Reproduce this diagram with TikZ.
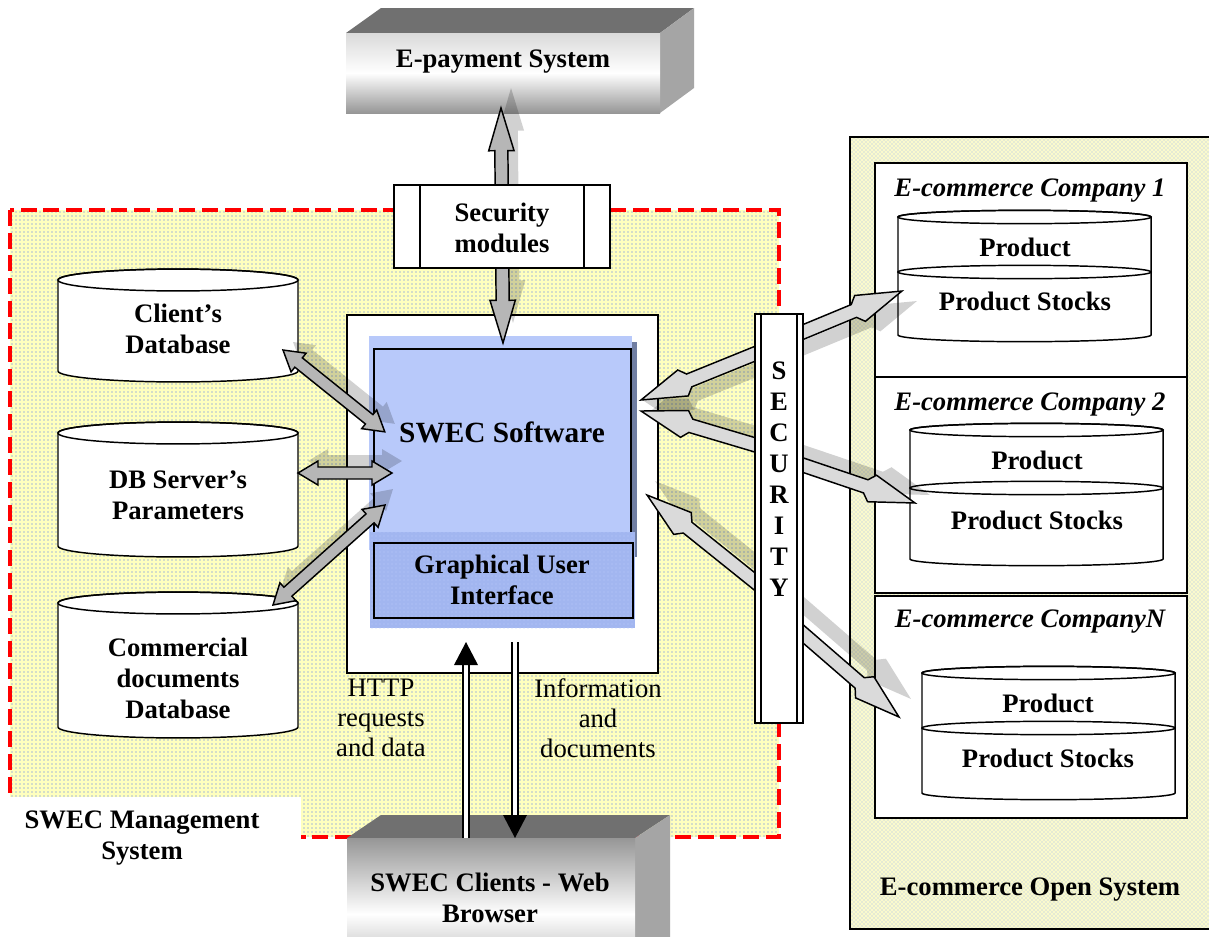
\documentclass[tikz,border=0pt]{standalone}
\usepackage{fontspec}
\setmainfont{Liberation Serif}
\usetikzlibrary{patterns}

\definecolor{mgmtyellow}{RGB}{255,255,190}
\definecolor{dotblue}{RGB}{70,110,240}
\definecolor{openyellow}{RGB}{250,250,205}
\definecolor{hatchblue}{RGB}{160,182,238}
\definecolor{swecblue}{RGB}{184,201,250}
\definecolor{guiblue}{RGB}{162,182,240}
\definecolor{slateblue2}{RGB}{112,126,162}
\definecolor{boxtop}{RGB}{112,112,112}
\definecolor{boxside}{RGB}{165,165,165}
\definecolor{facelight}{RGB}{218,218,218}
\definecolor{facedark}{RGB}{150,150,150}
\definecolor{arrgray}{RGB}{182,182,182}
\definecolor{arrlight}{RGB}{218,218,218}

\newcommand\lblfont{\fontsize{20}{23.2}\selectfont\bfseries}
\newcommand\lblitfont{\fontsize{20}{23.2}\selectfont\bfseries\itshape}
\newcommand\plainfont{\fontsize{20}{22.5}\selectfont}
\newcommand\swecfont{\fontsize{22}{25}\selectfont\bfseries}

\newdimen\ArAx \newdimen\ArAy \newdimen\ArBx \newdimen\ArBy
\newcommand\ArPrep[2]{%
  \pgfextractx{\ArAx}{\pgfpointanchor{#1}{center}}%
  \pgfextracty{\ArAy}{\pgfpointanchor{#1}{center}}%
  \pgfextractx{\ArBx}{\pgfpointanchor{#2}{center}}%
  \pgfextracty{\ArBy}{\pgfpointanchor{#2}{center}}%
  \pgfmathsetmacro\ArAng{atan2(\the\ArBy-\the\ArAy,\the\ArBx-\the\ArAx)}%
  \pgfmathsetmacro\ArLen{veclen(\the\ArBx-\the\ArAx,\the\ArBy-\the\ArAy)}%
}
% double-headed block arrow: [style]{from}{to}{half shaft}{half head}{head length}{offset}
\newcommand\DArrow[7][]{%
  \ArPrep{#2}{#3}%
  \pgfmathsetmacro\ArM{\ArLen-#6}%
  \begin{scope}[shift={(\the\ArAx,\the\ArAy)}, shift={#7}, rotate=\ArAng]
    \path[#1] (0pt,0pt) -- (#6pt,#5pt) -- (#6pt,#4pt) -- (\ArM pt,#4pt) -- (\ArM pt,#5pt)
      -- (\ArLen pt,0pt) -- (\ArM pt,-#5pt) -- (\ArM pt,-#4pt) -- (#6pt,-#4pt) -- (#6pt,-#5pt) -- cycle;
  \end{scope}}
% single-headed block arrow: tail #2, tip #3
\newcommand\SArrow[7][]{%
  \ArPrep{#2}{#3}%
  \pgfmathsetmacro\ArN{\ArLen-#6}%
  \pgfmathsetmacro\ArM{\ArLen-#6-5}%
  \begin{scope}[shift={(\the\ArAx,\the\ArAy)}, shift={#7}, rotate=\ArAng]
    \path[#1] (0pt,#4pt) -- (\ArM pt,#4pt) -- (\ArN pt,#5pt) -- (\ArLen pt,0pt)
      -- (\ArN pt,-#5pt) -- (\ArM pt,-#4pt) -- (0pt,-#4pt) -- cycle;
  \end{scope}}
% cylinder: x1 x2 ytop ybottom rx(pt) ry(pt)
\newcommand\Cyl[6]{%
  \filldraw[cylline, fill=white] (#1,#3) -- (#1,#4)
    arc[start angle=180,end angle=360,x radius=#5pt,y radius=#6pt] -- (#2,#3)
    arc[start angle=0,end angle=180,x radius=#5pt,y radius=#6pt] -- cycle;
  \draw[cylline] ({(#1+#2)/2},#3) ellipse[x radius=#5pt,y radius=#6pt];
}

\begin{document}
\begin{tikzpicture}[x=0.75pt,y=-0.75pt,
  lbl/.style={font=\lblfont, align=center, inner sep=0pt},
  lblit/.style={font=\lblitfont, inner sep=0pt},
  plainlbl/.style={font=\plainfont, align=center, inner sep=0pt},
  boxline/.style={draw=black, line width=1.3pt},
  cylline/.style={draw=black, line width=1.1pt},
  larrow/.style={draw=black, line width=1.1pt, fill=arrgray, line join=miter},
  rarrow/.style={draw=black, line width=1.1pt, fill=arrlight, line join=miter},
  ashadow/.style={fill=black, fill opacity=0.18, draw=none},
  dline/.style={draw=black, line width=1.8pt, double=white, double distance=2.6pt},
]
\useasboundingbox (0,0) rectangle (1209,936);
\clip (0,0) rectangle (1209,936);
\fill[white] (0,0) rectangle (1209,936);

% ---------- SWEC management region ----------
\fill[mgmtyellow] (10,210) rectangle (779,837);
\fill[pattern=dots, pattern color=dotblue] (10,210) rectangle (779,837);
\draw[red, line width=3pt, dash pattern=on 12pt off 5pt] (10,210) rectangle (779,837);
\fill[white] (0,797) rectangle (301,850);
\node[lbl] (mgmt) at (142,838) {SWEC Management\\System};

% ---------- E-commerce open system ----------
\fill[openyellow] (850,137) rectangle (1215,929);
\fill[pattern=crosshatch dots, pattern color=hatchblue] (850,137) rectangle (1215,929);
\draw[boxline] (850,137) rectangle (1215,929);
\node[lbl] (opensys) at (1030,890) {E-commerce Open System};

\draw[boxline, fill=white] (875,163) rectangle (1187,377);
\draw[boxline, fill=white] (875,377) rectangle (1187,593);
\draw[boxline, fill=white] (875,596) rectangle (1187,818);
\node[lblit] (c1t) at (1030,191) {E-commerce Company 1};
\node[lblit] (c2t) at (1030,405) {E-commerce Company 2};
\node[lblit] (cNt) at (1030,622) {E-commerce CompanyN};

\Cyl{898}{1151}{217}{335}{94.875}{5}
\draw[cylline] (1024.5,272) ellipse[x radius=94.875pt, y radius=5pt];
\node[lbl] (p1) at (1025,247) {Product};
\node[lbl] (ps1) at (1025,301) {Product Stocks};

\Cyl{910}{1163}{430}{559}{94.875}{5}
\draw[cylline] (1036.5,488) ellipse[x radius=94.875pt, y radius=5pt];
\node[lbl] (p2) at (1037,460) {Product};
\node[lbl] (ps2) at (1037,520) {Product Stocks};

\Cyl{922}{1175}{673}{793}{94.875}{5}
\draw[cylline] (1048.5,728) ellipse[x radius=94.875pt, y radius=5pt];
\node[lbl] (p3) at (1048,703) {Product};
\node[lbl] (ps3) at (1048,758) {Product Stocks};

% ---------- databases ----------
\Cyl{58}{298}{280}{371}{90}{8.2}
\node[lbl] (cdb) at (178,329) {Client’s\\Database};
\Cyl{58}{298}{433}{546}{90}{8.2}
\node[lbl] (dbs) at (178,495) {DB Server’s\\Parameters};
\Cyl{58}{298}{603}{727}{90}{8.2}
\node[lbl] (cdoc) at (178,678) {Commercial\\documents\\Database};

% ---------- E-payment 3D box ----------
\fill[boxtop] (346,33) -- (381,8) -- (694,8) -- (660,33) -- cycle;
\fill[boxside] (660,33) -- (694,8) -- (694,88) -- (660,113) -- cycle;
\shade[top color=facelight, bottom color=facedark, middle color=white] (346,33) rectangle (660,113);
\node[lbl] (epay) at (503,62) {E-payment System};

% ---------- SWEC clients 3D box ----------
\fill[boxtop] (347,838) -- (381,815) -- (670,815) -- (635,838) -- cycle;
\fill[boxside] (635,838) -- (670,815) -- (670,960) -- (635,980) -- cycle;
\shade[top color=facedark, bottom color=facedark, middle color=white] (347,838) rectangle (635,990);
\node[lbl] (clients) at (490,898) {SWEC Clients - Web\\Browser};

% ---------- SWEC software box ----------
\draw[boxline, fill=white] (347,315) rectangle (658,673);
\fill[slateblue2] (631,342) rectangle (637,557);
\fill[swecblue] (369,336) rectangle (632,550);
\draw[boxline] (374,349) rectangle (631,540);
\fill[guiblue] (370,532) rectangle (635,628);
\fill[pattern=dots, pattern color=swecblue] (370,532) rectangle (635,628);
\draw[boxline] (374,543) rectangle (633,618);
\node[font=\swecfont, inner sep=0pt] (swec) at (502,432) {SWEC Software};
\node[lbl] (gui) at (502,580) {Graphical User\\Interface};

% ---------- vertical arrow e-payment <-> SWEC ----------
\coordinate (epTip) at (501,108);
\coordinate (swTip) at (503,343);
\DArrow[ashadow]{epTip}{swTip}{4.9}{9.5}{32}{(10,-20)}
\DArrow[larrow]{epTip}{swTip}{4.9}{9.5}{32}{(0,0)}

\draw[boxline, fill=white] (394,185) rectangle (610,268);
\draw[boxline] (420,185) -- (420,268) (584,185) -- (584,268);
\node[lbl] (secmod) at (502,228) {Security\\modules};

% ---------- left arrows ----------
\coordinate (cdbA) at (283,350); \coordinate (cdbB) at (385,432);
\coordinate (dbsA) at (298,473); \coordinate (dbsB) at (392,473);
\coordinate (comA) at (273,605); \coordinate (comB) at (385,505);
\DArrow[ashadow]{cdbA}{cdbB}{4.5}{9}{15}{(10,-8)}
\DArrow[ashadow]{dbsA}{dbsB}{4.5}{9}{15}{(10,-12)}
\DArrow[ashadow]{comA}{comB}{4.5}{9}{15}{(8,-16)}
\DArrow[larrow]{cdbA}{cdbB}{4.5}{9}{15}{(0,0)}
\DArrow[larrow]{dbsA}{dbsB}{4.5}{9}{15}{(0,0)}
\DArrow[larrow]{comA}{comB}{4.5}{9}{15}{(0,0)}

% ---------- right arrows ----------
\coordinate (barA1) at (779,344); \coordinate (swR1) at (641,400);
\coordinate (barA2) at (779,452); \coordinate (swR2) at (641,411);
\coordinate (barA3) at (779,601); \coordinate (swR3) at (647,495);
\coordinate (barB1) at (779,342); \coordinate (cyR1) at (902,291);
\coordinate (barB2) at (779,457); \coordinate (cyR2) at (915,503);
\coordinate (barB3) at (779,613); \coordinate (cyR3) at (899,717);
\SArrow[ashadow]{barA1}{swR1}{5.2}{10.5}{34}{(6,14)}
\SArrow[ashadow]{barA2}{swR2}{5.2}{10.5}{34}{(0,-12)}
\SArrow[ashadow]{barA3}{swR3}{5.2}{10.5}{34}{(8,-14)}
\SArrow[ashadow]{barB1}{cyR1}{5.2}{10.5}{34}{(15,10)}
\SArrow[ashadow]{barB2}{cyR2}{5.2}{10.5}{34}{(15,-8)}
\SArrow[ashadow]{barB3}{cyR3}{5.2}{10.5}{34}{(12,-18)}
\SArrow[rarrow]{barA1}{swR1}{5.2}{10.5}{34}{(0,0)}
\SArrow[rarrow]{barA2}{swR2}{5.2}{10.5}{34}{(0,0)}
\SArrow[rarrow]{barA3}{swR3}{5.2}{10.5}{34}{(0,0)}
\SArrow[rarrow]{barB1}{cyR1}{5.2}{10.5}{34}{(0,0)}
\SArrow[rarrow]{barB2}{cyR2}{5.2}{10.5}{34}{(0,0)}
\SArrow[rarrow]{barB3}{cyR3}{5.2}{10.5}{34}{(0,0)}

% ---------- SECURITY bar ----------
\draw[boxline, fill=white] (755,314) rectangle (803,723);
\draw[boxline] (761,314) -- (761,723) (797,314) -- (797,723);
\node[lbl] (sectxt) at (779,479) {S\\E\\C\\U\\R\\I\\T\\Y};

% ---------- client <-> SWEC arrows ----------
\coordinate (httpTail) at (466,838); \coordinate (httpNeck) at (466,662); \coordinate (httpTip) at (466,642);
\draw[dline] (httpTail) -- (httpNeck);
\fill (httpTip) -- ++(-12,23) -- ++(24,0) -- cycle;
\coordinate (infoTail) at (515,642); \coordinate (infoNeck) at (515,818); \coordinate (infoTip) at (515,838);
\draw[dline] (infoTail) -- (infoNeck);
\fill (infoTip) -- ++(-12,-23) -- ++(24,0) -- cycle;

\node[plainlbl] (httplbl) at (381,718) {HTTP\\requests\\and data};
\node[plainlbl] (infolbl) at (598,718) {Information\\and\\documents};
\end{tikzpicture}
\end{document}
